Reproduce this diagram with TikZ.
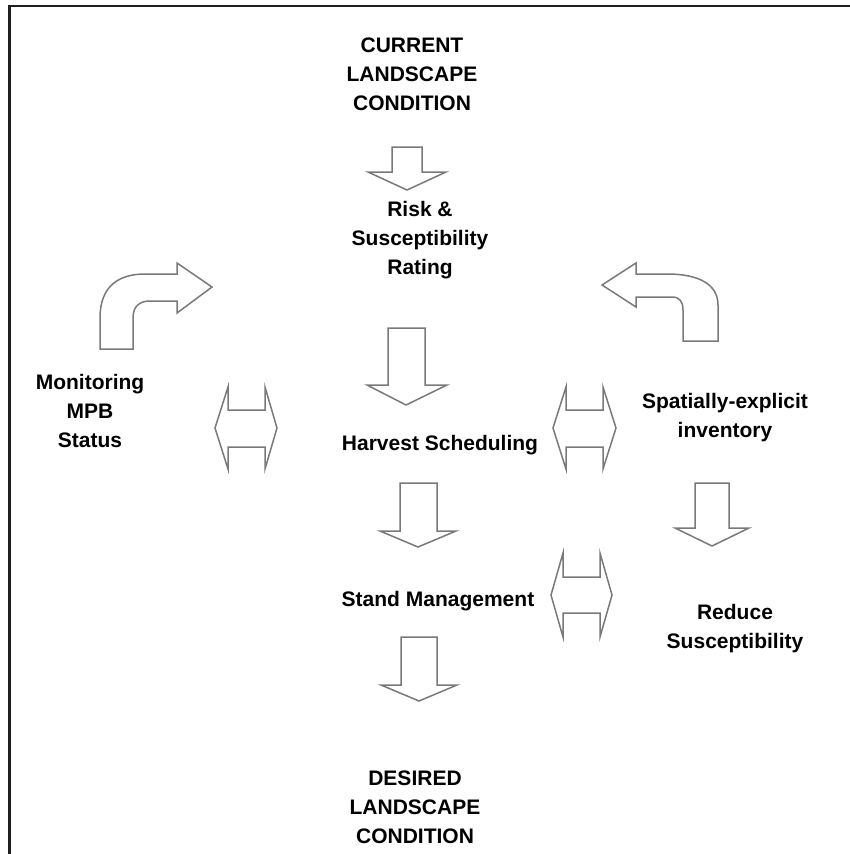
\documentclass[tikz,border=0pt]{standalone}
\usepackage{fontspec}
\setmainfont{Liberation Sans}
\tikzset{
  label/.style={font=\bfseries\fontsize{21}{29}\selectfont, align=center, inner sep=0pt},
  blockarrow/.style={draw=gray!95!black, line width=1.5pt, line join=miter},
  frame/.style={draw=black!88, line width=2.4pt}
}
\begin{document}
\begin{tikzpicture}[x=1pt, y=-1pt]
    \useasboundingbox (0, 0) rectangle (850, 854);
    \draw[frame] (9.5, 854) -- (9.5, 6) -- (850, 6);

    % texts
    \node[label] (current) at (412, 74) {CURRENT\\LANDSCAPE\\CONDITION};
    \node[label] (risk) at (420, 240) {Risk \&\\Susceptibility\\Rating};
    \node[label] (monitor) at (90, 411) {Monitoring\\MPB\\Status};
    \node[label] (harvest) at (440, 445) {Harvest Scheduling};
    \node[label] (spatial) at (725, 418) {Spatially-explicit\\inventory};
    \node[label] (stand) at (438, 601) {Stand Management};
    \node[label] (reduce) at (735, 629) {Reduce\\Susceptibility};
    \node[label] (desired) at (415, 807) {DESIRED\\LANDSCAPE\\CONDITION};

    % down arrows
    \draw[blockarrow] (392, 147) -- (422, 147) -- (422, 172) -- (446, 172) -- (407, 190)
        -- (368, 172) -- (392, 172) -- cycle;
    \draw[blockarrow] (388, 328) -- (425, 328) -- (425, 385) -- (447, 385) -- (406, 405)
        -- (367, 385) -- (388, 385) -- cycle;
    \draw[blockarrow] (400, 483) -- (437, 483) -- (437, 531) -- (456, 531) -- (418, 547)
        -- (380, 531) -- (400, 531) -- cycle;
    \draw[blockarrow] (401, 637) -- (437, 637) -- (437, 685) -- (457, 685) -- (419, 701)
        -- (381, 685) -- (401, 685) -- cycle;
    \draw[blockarrow] (695, 483) -- (729, 483) -- (729, 528) -- (749, 528) -- (712, 546)
        -- (675, 528) -- (695, 528) -- cycle;

    % double arrows
    \draw[blockarrow] (215, 428) -- (228, 387) -- (228, 410) -- (265, 410) -- (265, 387)
        -- (277, 428) -- (265, 469) -- (265, 447) -- (228, 447) -- (228, 469) -- cycle;
    \draw[blockarrow] (553, 428) -- (566, 387) -- (566, 410) -- (603, 410) -- (603, 387)
        -- (616, 428) -- (603, 469) -- (603, 447) -- (566, 447) -- (566, 469) -- cycle;
    \draw[blockarrow] (551, 595) -- (563, 553) -- (563, 577) -- (600, 577) -- (600, 553)
        -- (612, 595) -- (600, 637) -- (600, 613) -- (563, 613) -- (563, 637) -- cycle;

    % curved arrows
    \draw[blockarrow] (100, 349) -- (100, 318) .. controls (100, 285) and (120, 274) .. (145, 274)
        -- (177, 274) -- (177, 263) -- (212, 287) -- (177, 313) -- (177, 301) -- (150, 301)
        .. controls (140, 301) and (133, 306) .. (133, 318) -- (133, 349) -- cycle;
    \draw[blockarrow] (683, 341) -- (683, 310) .. controls (683, 302) and (680, 297) .. (672, 297)
        -- (636, 297) -- (636, 307) -- (602, 285) -- (636, 263) -- (636, 274) -- (667, 274)
        .. controls (700, 274) and (718, 285) .. (718, 305) -- (718, 341) -- cycle;
\end{tikzpicture}
\end{document}
